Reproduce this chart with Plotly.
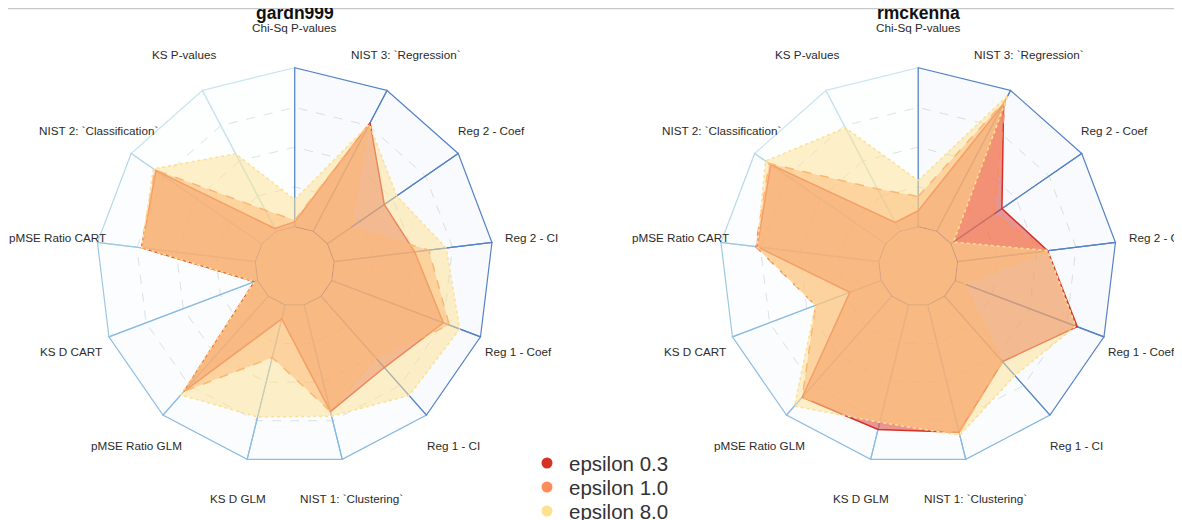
import math
import plotly.graph_objects as go

categories = ["Chi-Sq P-values", "NIST 3: `Regression`", "Reg 2 - Coef", "Reg 2 - CI",
              "Reg 1 - Coef", "Reg 1 - CI", "NIST 1: `Clustering`", "KS D GLM",
              "pMSE Ratio GLM", "KS D CART", "pMSE Ratio CART",
              "NIST 2: `Classification`", "KS P-values"]

series_names = ["epsilon 0.3", "epsilon 1.0", "epsilon 8.0"]

gardn999_eps03 = [0.03, 0.77, 0.435, 0.51, 0.75, 0.60, 0.69, 0.09, 0.80, 0.02, 0.72, 0.81, 0.02]
gardn999_eps10 = [0.04, 0.77, 0.18, 0.60, 0.79, 0.52, 0.69, 0.34, 0.80, 0.02, 0.72, 0.82, 0.15]
gardn999_eps80 = [0.17, 0.76, 0.53, 0.71, 0.86, 0.835, 0.72, 0.726, 0.83, 0.02, 0.72, 0.83, 0.55]

rmckenna_eps03 = [0.10, 0.906, 0.39, 0.57, 0.82, 0.55, 0.824, 0.806, 0.85, 0.21, 0.77, 0.877, 0.062]
rmckenna_eps10 = [0.19, 0.93, 0.33, 0.57, 0.06, 0.55, 0.83, 0.76, 0.85, 0.44, 0.78, 0.89, 0.30]
rmckenna_eps80 = [0.29, 0.967, 0.02, 0.57, 0.81, 0.667, 0.844, 0.76, 0.924, 0.44, 0.77, 0.917, 0.734]

panel_titles = ["gardn999", "rmckenna"]

series_colors = ["#d73027", "#fc8d59", "#fee090"]
FILL_ALPHA = 0.5
series_dash = ["solid", "dash", "dot"]

sector_colors = ["#5583c6", "#5583c6", "#5583c6", "#5583c6", "#5583c6", "#86b8de",
                 "#8fbde0", "#8fbde0", "#8fbde0", "#9cc8e4", "#b6d9ea", "#c8e4ef", "#c8e4ef"]
sector_rank = [5, 5, 5, 5, 5, 4, 3, 3, 3, 2, 1, 0, 0]

FONT = "Liberation Sans, Arial, Helvetica, sans-serif"


def hex_rgb(h):
    h = h.lstrip("#")
    return int(h[0:2], 16), int(h[2:4], 16), int(h[4:6], 16)


def hex_rgba(h, a):
    r, g, b = hex_rgb(h)
    return "rgba(%d,%d,%d,%.3f)" % (r, g, b, a)


# colour of all three translucent fills stacked on white (used for the centre hole)
stack = [255.0, 255.0, 255.0]
for c in series_colors:
    rgb = hex_rgb(c)
    stack = [s * (1 - FILL_ALPHA) + v * FILL_ALPHA for s, v in zip(stack, rgb)]
centre_fill = "rgb(%d,%d,%d)" % tuple(round(v) for v in stack)

fig = go.Figure()
panels = [("polar", [gardn999_eps03, gardn999_eps10, gardn999_eps80]),
          ("polar2", [rmckenna_eps03, rmckenna_eps10, rmckenna_eps80])]

n = len(categories)
order = sorted(range(n), key=lambda i: sector_rank[i])
for sp, data in panels:
    # background sectors
    for i in order:
        a, b = categories[i], categories[(i + 1) % n]
        fig.add_trace(go.Scatterpolar(
            r=[0, 1, 1, 0, 0], theta=[a, a, b, b, a], mode="lines", fill="toself",
            fillcolor=hex_rgba(sector_colors[i], 0.045),
            line=dict(color=sector_colors[i], width=1.2),
            showlegend=False, hoverinfo="skip", subplot=sp))
    # data
    for k, vals in enumerate(data):
        fig.add_trace(go.Scatterpolar(
            r=vals + [vals[0]], theta=categories + [categories[0]], mode="lines",
            fill="toself", fillcolor=hex_rgba(series_colors[k], FILL_ALPHA),
            line=dict(color=series_colors[k], width=1.5, dash=series_dash[k]),
            name=series_names[k], showlegend=False, hoverinfo="skip", subplot=sp))

# the page body keeps its default 8px margin; the figure fills the rest of the window
W, H = 1174, 512
UNIT = 158.96          # px per radial unit
HOLE_PX = 39.74        # radius of the centre hole
RMAX = 1.3
RT = HOLE_PX + UNIT * RMAX
LABEL_PX = 239.0       # distance of category labels from the centre
centers = [(286.7, 258.4), (910.2, 258.4)]


def dom(cx, cy):
    return dict(x=[(cx - RT) / W, (cx + RT) / W], y=[1 - (cy + RT) / H, 1 - (cy - RT) / H])


annotations = []
shapes = []
for (cx, cy), t in zip(centers, panel_titles):
    annotations.append(dict(text=t, x=cx / W, y=1 - 4.5 / H,
                            xref="paper", yref="paper", xanchor="center",
                            yanchor="middle", showarrow=False,
                            font=dict(size=17.5, color="#111111", family=FONT,
                                      weight="bold")))
    pts = []
    for i, c in enumerate(categories):
        ang = math.radians(i * 360.0 / n)
        lx = cx + LABEL_PX * math.sin(ang)
        ly = cy - LABEL_PX * math.cos(ang)
        annotations.append(dict(text=c, x=lx / W, y=1 - ly / H, xref="paper",
                                yref="paper", xanchor="center", yanchor="middle",
                                showarrow=False, borderpad=0,
                                font=dict(size=11.7, color="#2a2a2a", family=FONT)))
        hx = (cx + HOLE_PX * math.sin(ang)) / W
        hy = 1 - (cy - HOLE_PX * math.cos(ang)) / H
        pts.append("%.5f,%.5f" % (hx, hy))
    # centre of the radar, covered by every series' fill
    shapes.append(dict(type="path", xref="paper", yref="paper",
                       path="M" + " L".join(pts) + " Z", fillcolor=centre_fill,
                       line=dict(color="rgba(190,150,120,0.6)", width=1), layer="below"))

# legend (marker dots + labels)
legend_y = [455, 479, 503]
for k, name in enumerate(series_names):
    ly = legend_y[k]
    shapes.append(dict(type="circle", xref="paper", yref="paper",
                       x0=(539 - 5.5) / W, x1=(539 + 5.5) / W,
                       y0=1 - (ly + 5.5) / H, y1=1 - (ly - 5.5) / H,
                       fillcolor=series_colors[k], line=dict(width=0)))
    annotations.append(dict(text=name, x=559 / W, y=1 - ly / H, xref="paper",
                            yref="paper", xanchor="left", yanchor="middle",
                            showarrow=False,
                            font=dict(size=20.5, color="#333333", family=FONT)))

# thin rule along the top edge of the figure
shapes.append(dict(type="line", xref="paper", yref="paper", x0=0, x1=1,
                   y0=1 - 0.6 / H, y1=1 - 0.6 / H,
                   line=dict(color="#c8c8c8", width=1.2), layer="above"))

polar_common = dict(
    hole=HOLE_PX / RT, gridshape="linear", bgcolor="rgba(0,0,0,0)",
    radialaxis=dict(range=[0, RMAX], showticklabels=False, ticks="", showline=False,
                    tickvals=[0.25, 0.5, 0.75], gridcolor="#e2e2e2", griddash="dash",
                    gridwidth=1),
    angularaxis=dict(direction="clockwise", rotation=90, showticklabels=False,
                     ticks="", showline=False, showgrid=False,
                     categoryorder="array", categoryarray=categories),
)

fig.update_layout(
    width=W, height=H, margin=dict(l=0, r=0, t=0, b=0, pad=0),
    paper_bgcolor="white",
    polar=dict(domain=dom(*centers[0]), **polar_common),
    polar2=dict(domain=dom(*centers[1]), **polar_common),
    showlegend=False,
    hovermode=False,
    annotations=annotations,
    shapes=shapes,
)

fig.write_html("out.html", config={"displayModeBar": False, "staticPlot": True})
